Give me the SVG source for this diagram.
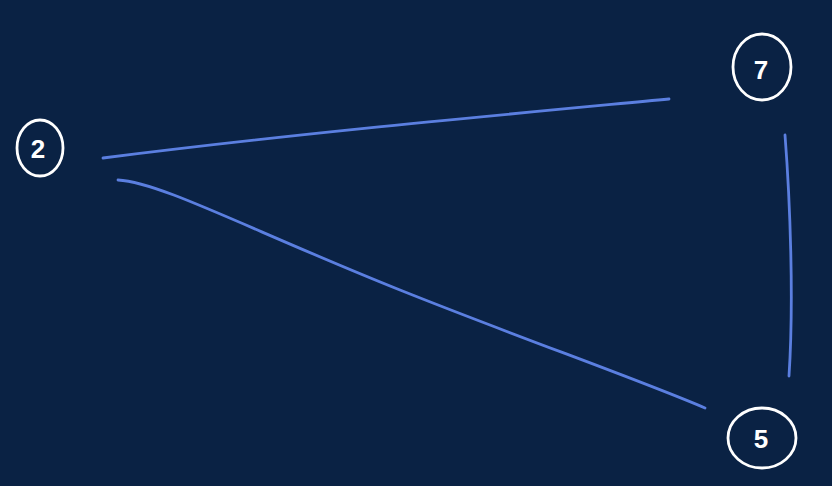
<svg xmlns="http://www.w3.org/2000/svg" width="832" height="486" viewBox="0 0 832 486">
<style>
.node{fill:none;stroke:#ffffff;stroke-width:2.8}
.lbl{fill:#ffffff;font-family:"Liberation Sans",Arial,sans-serif;font-size:26px;font-weight:bold;text-anchor:middle}
.edge{fill:none;stroke:#5b7fe0;stroke-width:2.8;stroke-linecap:round}
</style>
<rect width="832" height="486" fill="#0a2244"/>
<g id="connectors">
<path class="edge" d="M103,158 C300,133 500,115 669,99"/>
<path class="edge" d="M118,180 C160,182 250,230 400,290 C520,338 640,380 705,408"/>
<path class="edge" d="M785,135 C790,200 794,300 789,376"/>
</g>
<g id="node-2">
<ellipse class="node" cx="40" cy="148" rx="23" ry="28"/>
<text class="lbl" x="38" y="158">2</text>
</g>
<g id="node-7">
<ellipse class="node" cx="762" cy="67" rx="29" ry="33"/>
<text class="lbl" x="761" y="79">7</text>
</g>
<g id="node-5">
<ellipse class="node" cx="762" cy="438" rx="34" ry="30"/>
<text class="lbl" x="761" y="448">5</text>
</g>
</svg>
